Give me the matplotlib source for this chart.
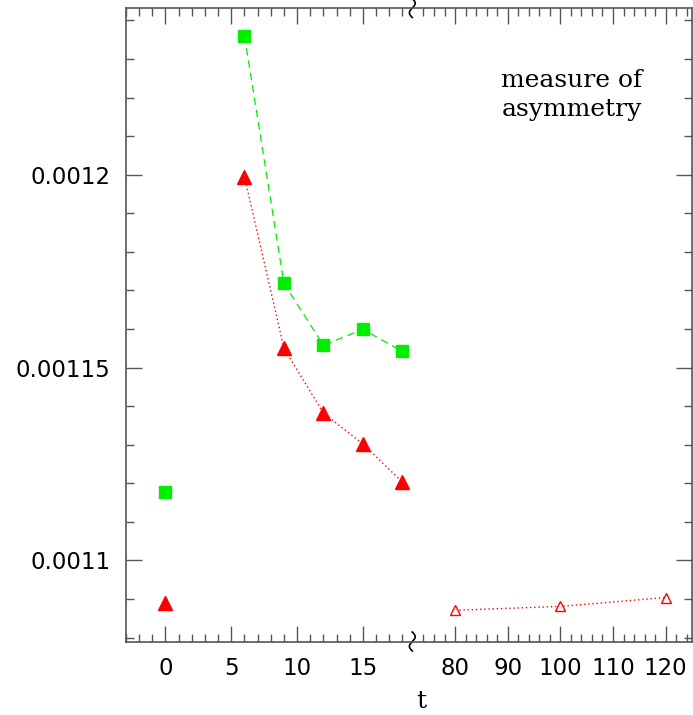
import numpy as np
import matplotlib
matplotlib.use("Agg")
import matplotlib.pyplot as plt
from matplotlib.ticker import FixedLocator, FixedFormatter
import matplotlib.transforms as mtransforms

# data
t_square = [0, 6, 9, 12, 15, 18]
y_square = [0.0011178, 0.0012360, 0.0011718, 0.0011558, 0.0011599, 0.0011542]

t_tri = [0, 6, 9, 12, 15, 18]
y_tri = [0.0010891, 0.0011995, 0.0011550, 0.0011382, 0.0011302, 0.0011203]

t_open = [80, 100, 120]
y_open = [0.0010871, 0.0010881, 0.0010904]

x_major_t = [0, 5, 10, 15, 80, 90, 100, 110, 120]
x_major_labels = ['0', '5', '10', '15', '80', '90', '100', '110', '120']
y_major = [0.0011, 0.00115, 0.0012]
y_major_labels = ['0.0011', '0.00115', '0.0012']

BREAK_U = 18.75


def to_u(t):
    # broken axis: left part unscaled, right part squeezed
    t = np.asarray(t, dtype=float)
    return np.where(t < 50, t, 0.4 * t - 10)


fig = plt.figure(figsize=(6.93, 7.15), dpi=100)
ax = fig.add_axes([126 / 693, 1 - 641.5 / 715, 566 / 693, 633.5 / 715])

green = '#00ee00'
red = '#ff0000'

# connected parts (t=0 points stand alone)
ax.plot(to_u(t_square[1:]), y_square[1:], color=green, ls=(0, (6, 4)), lw=0.9)
ax.plot(to_u(t_square), y_square, ls='none', marker='s', ms=9, color=green)
ax.plot(to_u(t_tri[1:]), y_tri[1:], color=red, ls=(0, (1, 2)), lw=1.0)
ax.plot(to_u(t_tri), y_tri, ls='none', marker='^', ms=10.5, color=red)
ax.plot(to_u(t_open), y_open, color=red, ls=(0, (1, 2)), lw=1.0,
        marker='^', ms=7.5, mfc='white', mec=red, mew=1.0)

ax.set_xlim(-3, 40)
ax.set_ylim(0.001079, 0.0012432)

ax.xaxis.set_major_locator(FixedLocator(to_u(x_major_t)))
ax.xaxis.set_major_formatter(FixedFormatter(x_major_labels))
minor_t = [t for t in range(-3, 19) if t not in x_major_t] + \
          [t for t in range(74, 125, 2) if t not in x_major_t]
ax.xaxis.set_minor_locator(FixedLocator(to_u(minor_t)))

ax.yaxis.set_major_locator(FixedLocator(y_major))
ax.yaxis.set_major_formatter(FixedFormatter(y_major_labels))
ax.yaxis.set_minor_locator(FixedLocator(np.arange(0.00108, 0.001245, 0.00001)))

spine_col = '#555555'
for s in ax.spines.values():
    s.set_color(spine_col)
    s.set_linewidth(1.2)

ax.tick_params(which='both', direction='in', top=True, right=True,
               color=spine_col, labelsize=16.5, width=1.0)
ax.tick_params(which='major', length=11.5, pad=11)
ax.tick_params(which='minor', length=5.8)

ax.set_xlabel('t', fontsize=18, family='DejaVu Serif')
ax.xaxis.set_label_coords(0.521, -0.077)

ax.text(0.7875, 0.863, 'measure of\nasymmetry', transform=ax.transAxes,
        ha='center', va='center', fontsize=18, family='DejaVu Serif',
        linespacing=1.32)

# break marks on the top and bottom spines
trans = mtransforms.blended_transform_factory(ax.transData, ax.transAxes)
s = np.linspace(-1, 1, 60)
for y0 in (0.0, 1.0):
    ax.plot(BREAK_U + 0.22 * np.sin(np.pi * s), y0 + 0.015 * s,
            color='black', lw=1.2, transform=trans, clip_on=False)

fig.savefig('out.png', dpi=100)
